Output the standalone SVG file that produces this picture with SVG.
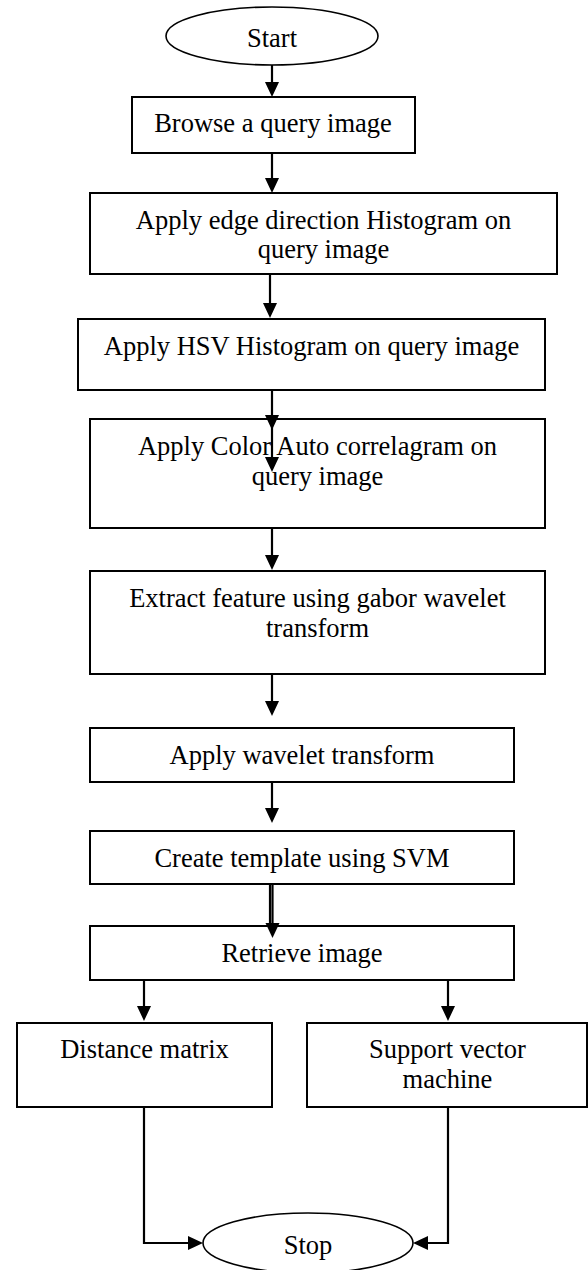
<svg xmlns="http://www.w3.org/2000/svg" width="588" height="1270" viewBox="0 0 588 1270">
  <style>
    .box { fill: #ffffff; stroke: #000000; stroke-width: 2; }
    .term { fill: #ffffff; stroke: #000000; stroke-width: 1.6; }
    .lbl { font-family: "Liberation Serif", "Times New Roman", serif; font-size: 26.5px; fill: #000000; text-anchor: middle; }
    .wire { fill: none; stroke: #000000; stroke-width: 2.2; }
  </style>
  <defs>
    <marker id="arrow" markerUnits="userSpaceOnUse" markerWidth="16" markerHeight="16" refX="10" refY="7" orient="auto">
      <path d="M0,0 L15,7 L0,14 z" fill="#000000"/>
    </marker>
  </defs>
  <rect width="588" height="1270" fill="#ffffff"/>

  <!-- nodes -->
  <g id="start">
    <ellipse class="term" cx="272" cy="36" rx="106" ry="29"/>
    <text class="lbl" x="272" y="47">Start</text>
  </g>
  <g id="browse">
    <rect class="box" x="132" y="97" width="283" height="56"/>
    <text class="lbl" x="273" y="132">Browse a query image</text>
  </g>
  <g id="edge-histogram">
    <rect class="box" x="90" y="193" width="467" height="81"/>
    <text class="lbl" x="323.5" y="229">Apply edge direction Histogram on</text>
    <text class="lbl" x="323.5" y="258">query image</text>
  </g>
  <g id="hsv-histogram">
    <rect class="box" x="78" y="319" width="467" height="71"/>
    <text class="lbl" x="311.5" y="355">Apply HSV Histogram on query image</text>
  </g>
  <g id="color-correlogram">
    <rect class="box" x="90" y="419" width="455" height="109"/>
    <text class="lbl" x="317.5" y="455">Apply Color Auto correlagram on</text>
    <text class="lbl" x="317.5" y="485">query image</text>
  </g>
  <g id="gabor">
    <rect class="box" x="90" y="571" width="455" height="103"/>
    <text class="lbl" x="317.5" y="607">Extract feature using gabor wavelet</text>
    <text class="lbl" x="317.5" y="637">transform</text>
  </g>
  <g id="wavelet">
    <rect class="box" x="90" y="728" width="424" height="54"/>
    <text class="lbl" x="302" y="764">Apply wavelet transform</text>
  </g>
  <g id="template">
    <rect class="box" x="90" y="831" width="424" height="53"/>
    <text class="lbl" x="302" y="867">Create template using SVM</text>
  </g>
  <g id="retrieve">
    <rect class="box" x="90" y="926" width="424" height="54"/>
    <text class="lbl" x="302" y="962">Retrieve image</text>
  </g>
  <g id="distance">
    <rect class="box" x="17" y="1023" width="255" height="84"/>
    <text class="lbl" x="144.5" y="1058">Distance matrix</text>
  </g>
  <g id="svm">
    <rect class="box" x="307" y="1023" width="280" height="84"/>
    <text class="lbl" x="447.5" y="1058">Support vector</text>
    <text class="lbl" x="447.5" y="1088">machine</text>
  </g>
  <g id="stop">
    <ellipse class="term" cx="308" cy="1243" rx="105" ry="30"/>
    <text class="lbl" x="308" y="1254">Stop</text>
  </g>

  <!-- connectors -->
  <g id="connectors">
    <line class="wire" x1="272" y1="65" x2="272" y2="92" marker-end="url(#arrow)"/>
    <line class="wire" x1="272" y1="153" x2="272" y2="188" marker-end="url(#arrow)"/>
    <line class="wire" x1="270" y1="274" x2="270" y2="313" marker-end="url(#arrow)"/>
    <line class="wire" x1="272" y1="390" x2="272" y2="425" marker-end="url(#arrow)"/>
    <line class="wire" x1="272" y1="425" x2="272" y2="467" marker-end="url(#arrow)"/>
    <line class="wire" x1="272" y1="528" x2="272" y2="565" marker-end="url(#arrow)"/>
    <line class="wire" x1="272" y1="674" x2="272" y2="711" marker-end="url(#arrow)"/>
    <line class="wire" x1="272" y1="782" x2="272" y2="818" marker-end="url(#arrow)"/>
    <line class="wire" x1="270" y1="884" x2="270" y2="925"/>
    <line class="wire" x1="272.5" y1="884" x2="272.5" y2="933" marker-end="url(#arrow)"/>
    <line class="wire" x1="144" y1="980" x2="144" y2="1016" marker-end="url(#arrow)"/>
    <line class="wire" x1="448" y1="980" x2="448" y2="1016" marker-end="url(#arrow)"/>
    <polyline class="wire" points="144,1107 144,1243 198,1243" marker-end="url(#arrow)"/>
    <polyline class="wire" points="448,1107 448,1243 418,1243" marker-end="url(#arrow)"/>
  </g>
</svg>
